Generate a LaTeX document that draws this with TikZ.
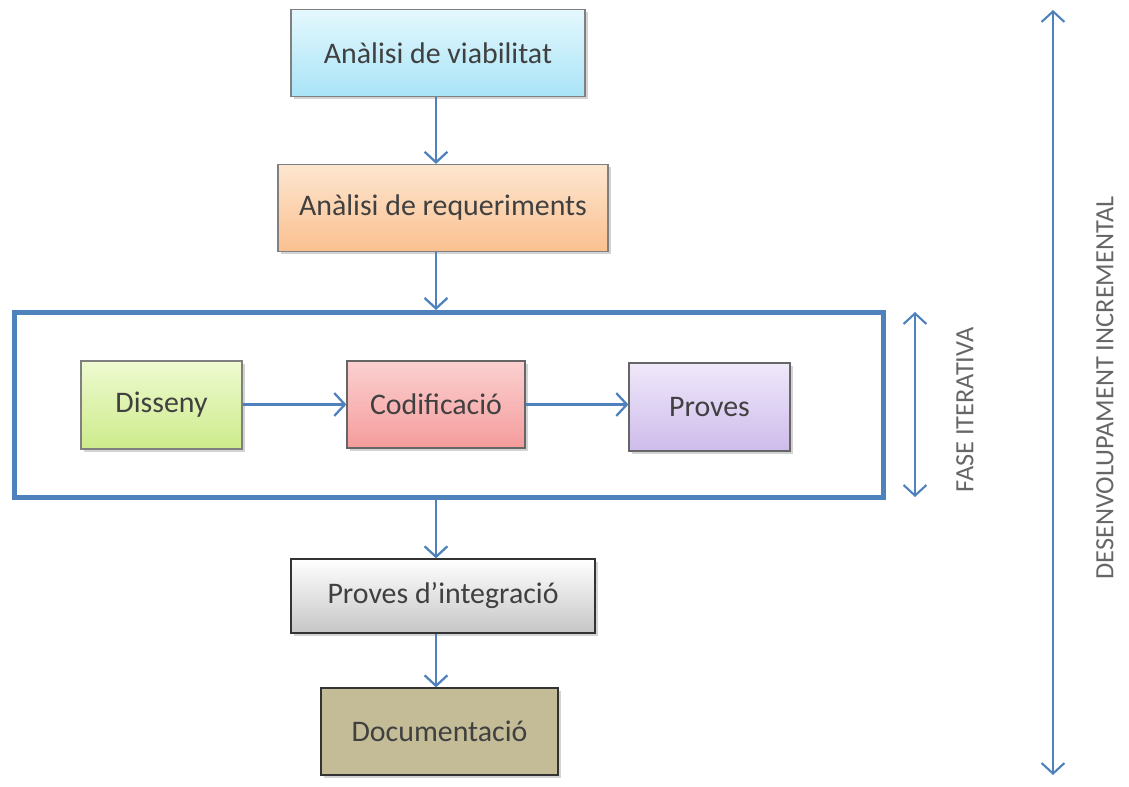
\documentclass[tikz,border=0pt]{standalone}
\usepackage{fontspec}
\setmainfont{Carlito}
\usetikzlibrary{arrows.meta,shadows}

\definecolor{flowblue}{HTML}{4F81BD}
\definecolor{txtgray}{HTML}{404040}
\definecolor{viabtop}{HTML}{E4F8FD}\definecolor{viabbot}{HTML}{A9E4F7}
\definecolor{reqtop}{HTML}{FDE6D0}\definecolor{reqbot}{HTML}{FAC08F}
\definecolor{distop}{HTML}{EEFAD0}\definecolor{disbot}{HTML}{CDEB8B}
\definecolor{codtop}{HTML}{FBD0D0}\definecolor{codbot}{HTML}{F59C9C}
\definecolor{prvtop}{HTML}{F0E8FA}\definecolor{prvbot}{HTML}{CDBCEB}
\definecolor{doccol}{HTML}{C4BC96}

\tikzset{
  fase/.style={draw=#1, line width=0.7pt, minimum height=1.74cm,
    font=\fontsize{17}{20}\selectfont, text=txtgray,
    drop shadow={shadow xshift=0.5mm, shadow yshift=-0.6mm, opacity=0.35}},
  flow/.style={draw=flowblue, line width=1.3pt,
    -{Straight Barb[length=6pt,width=13pt,line width=1.3pt]}},
  both/.style={draw=flowblue, line width=1.2pt,
    {Straight Barb[length=6pt,width=13pt,line width=1.2pt]}-{Straight Barb[length=6pt,width=13pt,line width=1.2pt]}},
  side/.style={font=\fontsize{15}{18}\selectfont, text=black!60, rotate=90}
}

\begin{document}
\begin{tikzpicture}
  \useasboundingbox (0,0) rectangle (22.58,-15.74);

  % etapes del cicle
  \node[fase=gray, top color=viabtop, bottom color=viabbot, minimum width=5.88cm]
    (viab) at (8.76,-1.06) {Anàlisi de viabilitat};
  \node[fase=gray, top color=reqtop, bottom color=reqbot, minimum width=6.6cm]
    (req) at (8.86,-4.16) {Anàlisi de requeriments};

  \node[draw=flowblue, line width=2.8pt, minimum width=17.38cm, minimum height=3.7cm]
    (iter) at (8.98,-8.1) {};

  \node[fase=gray, top color=distop, bottom color=disbot, minimum width=3.22cm, minimum height=1.76cm]
    (dis) at (3.23,-8.1) {Disseny};
  \node[fase=gray!80!black, top color=codtop, bottom color=codbot, minimum width=3.56cm]
    (cod) at (8.72,-8.09) {Codificació};
  \node[fase=gray!80!black, top color=prvtop, bottom color=prvbot, minimum width=3.22cm, minimum height=1.76cm]
    (prv) at (14.19,-8.14) {Proves};

  \node[fase=black!80, top color=white, bottom color=gray!45, minimum width=6.08cm, minimum height=1.48cm]
    (integ) at (8.86,-11.92) {Proves d’integració};
  \node[fase=black!80, fill=doccol, minimum width=4.74cm]
    (doc) at (8.79,-14.63) {Documentació};

  % fletxes
  \draw[flow] (viab.south -| cod) -- (req.north -| cod);
  \draw[flow] (req.south -| cod) -- (iter.north -| cod);
  \draw[flow] (iter.south -| cod) -- (integ.north -| cod);
  \draw[flow] (integ.south -| cod) -- (doc.north -| cod);
  \draw[flow] (dis.east |- cod) -- (cod.west);
  \draw[flow] (cod.east) -- (cod.east -| prv.west);

  % abast de cada fase
  \coordinate (it1) at (18.3,-6.24);
  \coordinate (it2) at (18.3,-9.94);
  \draw[both] (it1) -- (it2);
  \node[side] (itlab) at (19.3,-8.2) {FASE ITERATIVA};

  \coordinate (inc1) at (21.06,-0.2);
  \coordinate (inc2) at (21.06,-15.5);
  \draw[both] (inc1) -- (inc2);
  \node[side] (inclab) at (22.1,-7.76) {DESENVOLUPAMENT INCREMENTAL};
\end{tikzpicture}
\end{document}
